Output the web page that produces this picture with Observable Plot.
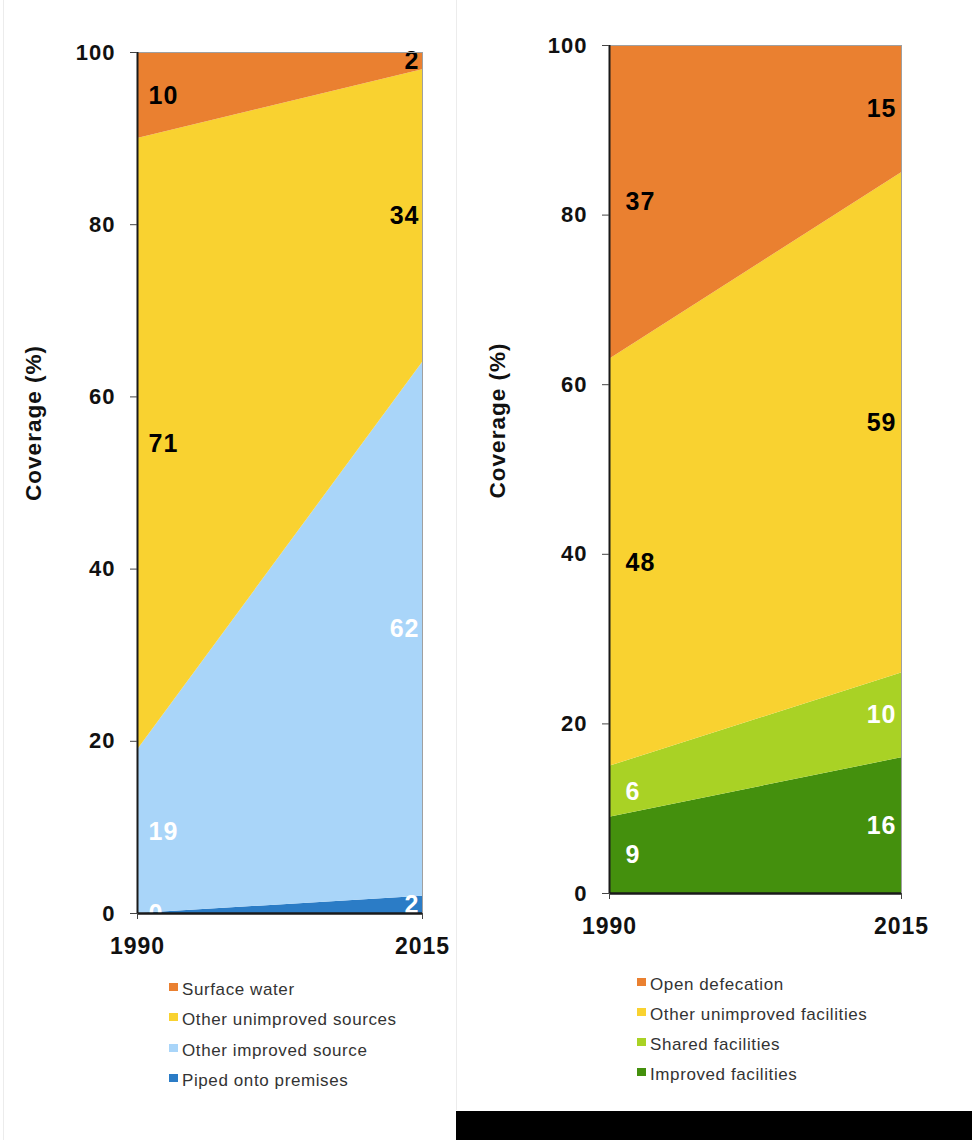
<!DOCTYPE html>
<html>
<head>
<meta charset="utf-8">
<script src="https://cdn.jsdelivr.net/npm/d3@7"></script>
<script src="https://cdn.jsdelivr.net/npm/@observablehq/plot@0.6"></script>
<style>
  html, body { margin: 0; padding: 0; background: #fff; }
  #page { position: relative; width: 972px; height: 1140px; overflow: hidden; font-family: "Liberation Sans", Arial, sans-serif; }
  .panel { position: absolute; top: 0; }
  .panel svg text { letter-spacing: 1px; }
  .legend { position: absolute; font-size: 17px; color: #333; letter-spacing: 0.6px; }
  .legend .row { position: absolute; white-space: nowrap; height: 20px; line-height: 20px; }
  .legend .sw { position: absolute; left: 0; top: 3px; width: 9px; height: 8px; }
  .legend .lab { position: absolute; left: 13px; top: 0; }
  .vline { position: absolute; top: 0; width: 1px; background: #ececec; }
</style>
</head>
<body>
<div id="page">
  <div class="vline" style="left:3px;height:1140px"></div>
  <div class="vline" style="left:456px;height:1110px"></div>
  <div id="left" class="panel" style="left:0px"></div>
  <div id="right" class="panel" style="left:460px"></div>
  <div id="legLeft" class="legend" style="left:169px;top:980px"></div>
  <div id="legRight" class="legend" style="left:637px;top:975px"></div>
  <div style="position:absolute;left:456px;top:1111px;width:516px;height:29px;background:#000"></div>
</div>
<script>
// ---- data ----
const years = [1990, 2015];
const yTicks = [0, 20, 40, 60, 80, 100];

// Drinking water (bottom to top)
const waterCategories = ["Piped onto premises", "Other improved source", "Other unimproved sources", "Surface water"];
const waterColors = ["#2b7cc6", "#a9d5f9", "#f9d230", "#ea8030"];
const waterLabelColors = ["#fff", "#fff", "#000", "#000"];
const pipedOntoPremises = [0, 2];
const otherImprovedSource = [19, 62];
const otherUnimprovedSources = [71, 34];
const surfaceWater = [10, 2];

// Sanitation (bottom to top)
const sanCategories = ["Improved facilities", "Shared facilities", "Other unimproved facilities", "Open defecation"];
const sanColors = ["#44900d", "#a9d225", "#f9d230", "#ea8030"];
const sanLabelColors = ["#fff", "#fff", "#000", "#000"];
const improvedFacilities = [9, 16];
const sharedFacilities = [6, 10];
const otherUnimprovedFacilities = [48, 59];
const openDefecation = [37, 15];

const waterSeries = [pipedOntoPremises, otherImprovedSource, otherUnimprovedSources, surfaceWater];
const sanSeries = [improvedFacilities, sharedFacilities, otherUnimprovedFacilities, openDefecation];

function toRows(categories, series, labelColors) {
  const rows = [];
  categories.forEach((c, i) => years.forEach((yr, j) => rows.push({category: c, year: yr, value: series[i][j], labelColor: labelColors[i]})));
  return rows;
}

function chart(rows, categories, colors, g) {
  const textMarks = [];
  for (const yr of years) {
    for (const col of ["#fff", "#000"]) {
      // stack over all rows so each label sits at the middle of its band; show only matching ones
      textMarks.push(Plot.text(rows, Plot.stackY({
        x: "year", y: "value", z: "category", order: categories,
        text: d => (d.year === yr && d.labelColor === col) ? String(d.value) : null,
        fill: col,
        textAnchor: yr === years[0] ? "start" : "end",
        dx: yr === years[0] ? g.dxStart : g.dxEnd,
        fontSize: 25, fontWeight: "bold"
      })));
    }
  }
  return Plot.plot({
    width: g.width, height: 970,
    marginLeft: g.ml, marginRight: g.mr, marginTop: g.mt, marginBottom: g.mb,
    x: {domain: years},
    y: {domain: [0, 100]},
    color: {domain: categories, range: colors},
    style: {fontFamily: "'Liberation Sans', Arial, sans-serif", background: "transparent", color: "#111"},
    marks: [
      Plot.areaY(rows, {x: "year", y: "value", z: "category", fill: "category", order: categories}),
      ...textMarks,
      Plot.frame({stroke: "#a0a0a0", strokeWidth: 1}),
      Plot.ruleX([years[0]], {stroke: "#1a1a1a", strokeWidth: 2}),
      Plot.ruleY([0], {stroke: "#1a1a1a", strokeWidth: 2.5}),
      Plot.axisY({ticks: yTicks, tickSize: 7, tickPadding: 15, fontSize: 22, fontWeight: "bold", label: null, stroke: "#444"}),
      Plot.axisX({ticks: years, tickFormat: d => String(d), tickSize: 6, tickPadding: 18, fontSize: 23, fontWeight: "bold", label: null, stroke: "#444"}),
      Plot.text(["Coverage (%)"], {text: d => d, frameAnchor: "left", textAnchor: "middle", lineAnchor: "middle", rotate: -90, dx: g.labelDx, dy: g.labelDy, fontSize: 22.5, fontWeight: "bold", fill: "#111"})
    ]
  });
}

const waterRows = toRows(waterCategories, waterSeries, waterLabelColors);
const sanRows = toRows(sanCategories, sanSeries, sanLabelColors);

document.getElementById("left").append(chart(waterRows, waterCategories, waterColors,
  {width: 460, ml: 137, mr: 38, mt: 52, mb: 57, dxStart: 11, dxEnd: -3, labelDx: -104, labelDy: -60}));
document.getElementById("right").append(chart(sanRows, sanCategories, sanColors,
  {width: 512, ml: 149, mr: 71, mt: 45, mb: 77, dxStart: 16, dxEnd: -5, labelDx: -112, labelDy: -49}));

function legend(el, categories, colors, spacing) {
  const node = document.getElementById(el);
  // legend lists top layer first
  const order = categories.map((c, i) => i).reverse();
  order.forEach((i, k) => {
    const row = document.createElement("div");
    row.className = "row";
    row.style.top = (k * spacing) + "px";
    row.innerHTML = `<span class="sw" style="background:${colors[i]}"></span><span class="lab">${categories[i]}</span>`;
    node.append(row);
  });
}
legend("legLeft", waterCategories, waterColors, 30.3);
legend("legRight", sanCategories, sanColors, 30);
</script>
</body>
</html>
